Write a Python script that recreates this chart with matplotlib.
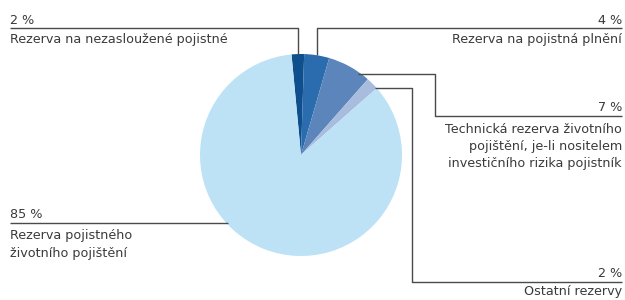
import numpy as np
import matplotlib
matplotlib.use("Agg")
import matplotlib.pyplot as plt

# data
labels = [
    "Rezerva na nezasloužené pojistné",
    "Rezerva na pojistná plnění",
    "Technická rezerva životního\npojištění, je-li nositelem\ninvestičního rizika pojistník",
    "Ostatní rezervy",
    "Rezerva pojistného\nživotního pojištění",
]
values = [2, 4, 7, 2, 85]
colors = ["#0f4f8e", "#2a6cae", "#5c86bb", "#a8bddd", "#bde2f6"]

W, H = 625, 300
cx, cy, r = 301, H - 155, 101
start = 95.4
line_c = "#4a4a4a"
text_c = "#3a3a3a"
fs = 9.2

fig = plt.figure(figsize=(W / 100, H / 100), dpi=100)
ax = fig.add_axes([0, 0, 1, 1])
wedges, _ = ax.pie(values, colors=colors, startangle=start, counterclock=False,
                   center=(cx, cy), radius=r, frame=True,
                   wedgeprops=dict(linewidth=0))
ax.set_xlim(0, W)
ax.set_ylim(0, H)
ax.set_aspect("equal")
ax.axis("off")


def mid(w):
    a = np.deg2rad((w.theta1 + w.theta2) / 2)
    return cx + r * np.cos(a), cy + r * np.sin(a)


def edge_x(y, side=1):
    return cx + side * np.sqrt(max(r ** 2 - (y - cy) ** 2, 0))


def seg(xs, ys):
    ax.plot(xs, [H - y for y in ys], color=line_c, lw=1.0, solid_capstyle="butt")


def txt(x, y, s, ha, va="center"):
    ax.text(x, H - y, s, ha=ha, va=va, fontsize=fs, color=text_c,
            linespacing=1.42)


pct = [f"{v} %" for v in values]

# 2 % top left
mx, my = mid(wedges[0])
seg([10, mx, mx], [28, 28, H - my])
txt(10, 26.5, pct[0], "left", "bottom")
txt(10, 40, labels[0], "left")

# 4 % top right
mx, my = mid(wedges[1])
seg([622, mx, mx], [28, 28, H - my])
txt(622, 26.5, pct[1], "right", "bottom")
txt(622, 40, labels[1], "right")

# 7 %
y0 = 74.3
seg([edge_x(H - y0) - 4, 435, 435, 622], [y0, y0, 115.7, 115.7])
txt(622, 114.2, pct[2], "right", "bottom")
txt(622, 123, labels[2], "right", "top")

# 2 % other
y0 = 87.7
seg([edge_x(H - y0) - 1, 412, 412, 622], [y0, y0, 281.7, 281.7])
txt(622, 280.2, pct[3], "right", "bottom")
txt(622, 292, labels[3], "right")

# 85 %
y0 = 222.7
seg([10, edge_x(H - y0, -1) + 2], [y0, y0])
txt(10, 221.2, pct[4], "left", "bottom")
txt(10, 229.5, labels[4], "left", "top")

fig.savefig("out.png", dpi=100)
